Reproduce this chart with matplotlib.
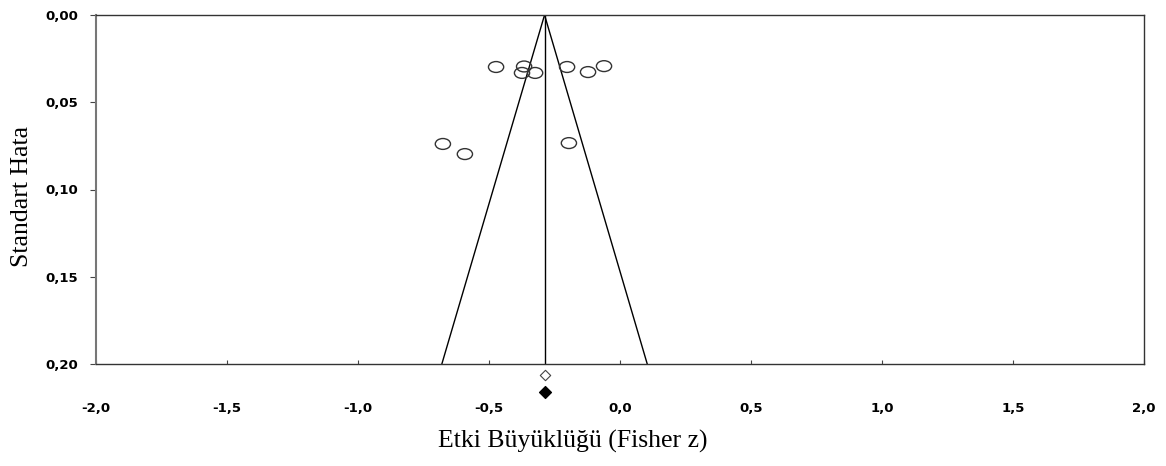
import matplotlib.pyplot as plt
import numpy as np
from matplotlib.path import Path
from matplotlib.transforms import Affine2D

# Study effect sizes (Fisher z) and standard errors
effect = [-0.473, -0.366, -0.374, -0.324, -0.202, -0.122, -0.061, -0.676, -0.592, -0.195]
std_err = [0.0298, 0.0295, 0.0332, 0.0332, 0.0298, 0.0327, 0.0293, 0.0739, 0.0797, 0.0734]

pooled = -0.288
observed_se = 0.2063
imputed_se = 0.2160
funnel_se = [0.0, 0.20]

x_ticks = [-2.0, -1.5, -1.0, -0.5, 0.0, 0.5, 1.0, 1.5, 2.0]
x_labels = ["-2,0", "-1,5", "-1,0", "-0,5", "0,0", "0,5", "1,0", "1,5", "2,0"]
y_ticks = [0.0, 0.05, 0.10, 0.15, 0.20]
y_labels = ["0,00", "0,05", "0,10", "0,15", "0,20"]

plt.rc('font', family='DejaVu Sans')

fig = plt.figure(figsize=(11.66, 4.66), dpi=100)
ax = fig.add_axes([96 / 1166, 1 - 364 / 466, (1144 - 96) / 1166, (364 - 15) / 466])

# Funnel lines
se = np.array(funnel_se)
ax.plot([pooled, pooled], se, color='black', linewidth=1.0)
ax.plot(pooled - 1.96 * se, se, color='black', linewidth=1.0)
ax.plot(pooled + 1.96 * se, se, color='black', linewidth=1.0)

# Elliptical open markers
ellipse = Path.unit_circle().transformed(Affine2D().scale(1.4, 1.0))
ax.scatter(effect, std_err, marker=ellipse, s=120, facecolors='none',
           edgecolors='#333333', linewidths=1.0, zorder=3)

# Pooled estimates below the axis
ax.scatter([pooled], [observed_se], marker='D', s=28, facecolors='white',
           edgecolors='#444444', linewidths=0.8, clip_on=False, zorder=4)
ax.scatter([pooled], [imputed_se], marker='D', s=36, color='black',
           clip_on=False, zorder=4)

ax.set_xlim(-2.0, 2.0)
ax.set_ylim(0.20, 0.0)

ax.set_xticks(x_ticks)
ax.set_xticklabels(x_labels, fontsize=9.5, fontweight='bold')
ax.set_yticks(y_ticks)
ax.set_yticklabels(y_labels, fontsize=9.5, fontweight='bold')
ax.tick_params(axis='x', direction='in', length=3, pad=27, color='#444444')
ax.tick_params(axis='y', direction='out', length=4, pad=9, color='#444444')

for side in ['left']:
    ax.spines[side].set_color('#777777')
    ax.spines[side].set_linewidth(1.5)
for side in ['top', 'right', 'bottom']:
    ax.spines[side].set_color('#333333')
    ax.spines[side].set_linewidth(1.0)

ax.set_xlabel("Etki Büyüklüğü (Fisher z)", family='Liberation Serif',
              fontsize=18.5, labelpad=12)
ax.xaxis.set_label_coords(0.455, -0.19)
ax.set_ylabel("Standart Hata", family='Liberation Serif', fontsize=18.5, labelpad=8)
ax.yaxis.set_label_coords(-0.060, 0.48)

fig.savefig("out.png", dpi=100)
